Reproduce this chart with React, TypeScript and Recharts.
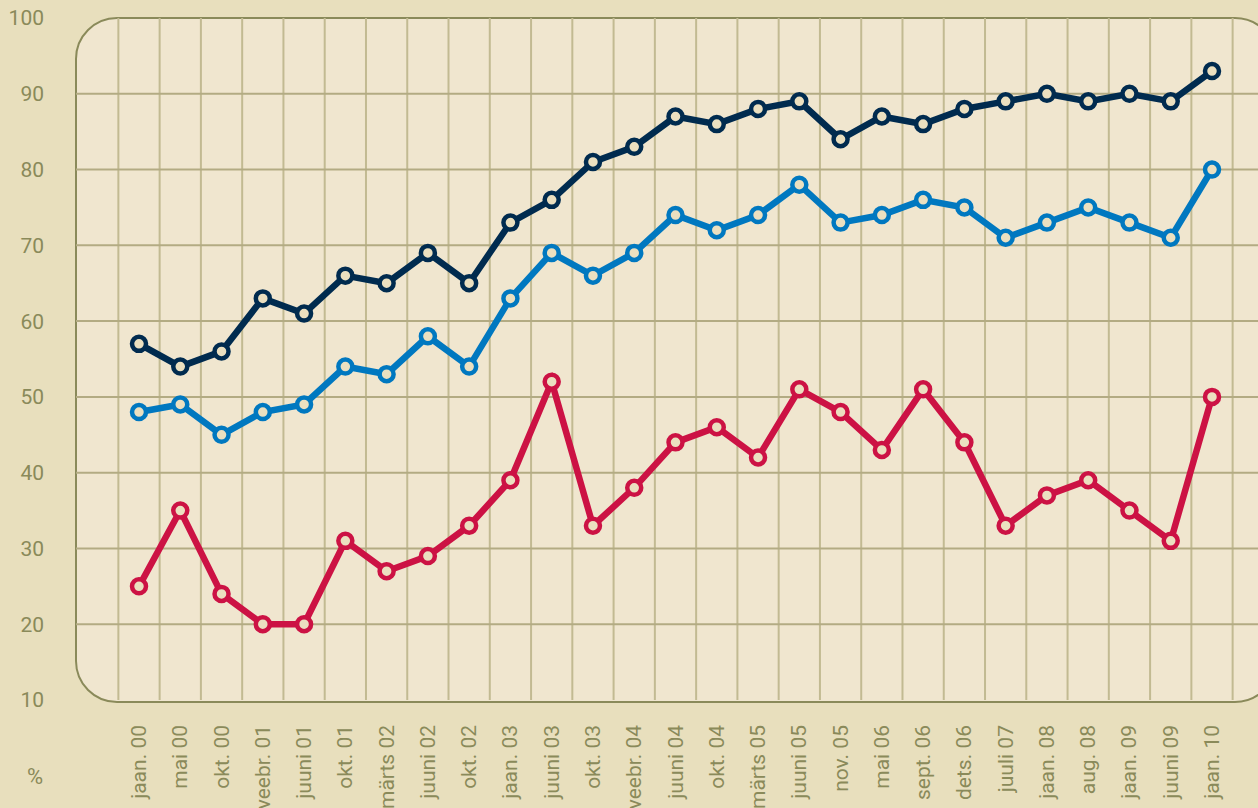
import { LineChart, Line, XAxis, YAxis, CartesianGrid } from 'recharts'

const months = [
  'jaan. 00', 'mai 00', 'okt. 00', 'veebr. 01', 'juuni 01', 'okt. 01', 'märts 02',
  'juuni 02', 'okt. 02', 'jaan. 03', 'juuni 03', 'okt. 03', 'veebr. 04', 'juuni 04',
  'okt. 04', 'märts 05', 'juuni 05', 'nov. 05', 'mai 06', 'sept. 06', 'dets. 06',
  'juuli 07', 'jaan. 08', 'aug. 08', 'jaan. 09', 'juuni 09', 'jaan. 10',
]
const navySeries = [57, 54, 56, 63, 61, 66, 65, 69, 65, 73, 76, 81, 83, 87, 86, 88, 89, 84, 87, 86, 88, 89, 90, 89, 90, 89, 93]
const blueSeries = [48, 49, 45, 48, 49, 54, 53, 58, 54, 63, 69, 66, 69, 74, 72, 74, 78, 73, 74, 76, 75, 71, 73, 75, 73, 71, 80]
const redSeries = [25, 35, 24, 20, 20, 31, 27, 29, 33, 39, 52, 33, 38, 44, 46, 42, 51, 48, 43, 51, 44, 33, 37, 39, 35, 31, 50]
const yTicks = [10, 20, 30, 40, 50, 60, 70, 80, 90, 100]

const W = 1258
const H = 808
const MARGIN = { top: 18, right: -16, bottom: 0, left: 0 }
const Y_AXIS_W = 76
const X_AXIS_H = 108
const PAD_L = 63
const PAD_R = 62
const Y_MIN = 10
const Y_MAX = 100

const PAGE_BG = '#e8dfbd'
const PLOT_BG = '#f0e6cf'
const OLIVE = '#8a8a5a'
const FONT = 'Roboto, "Noto Sans", sans-serif'

const data = months.map((m, i) => ({
  month: m,
  navy: navySeries[i],
  blue: blueSeries[i],
  red: redSeries[i],
}))

function MonthTick({ x, y, payload }: any) {
  return (
    <text
      x={x}
      y={y}
      transform={`rotate(-90, ${x}, ${y})`}
      textAnchor="end"
      dominantBaseline="central"
      fill={OLIVE}
      fontSize={21}
      fontFamily={FONT}
    >
      {payload.value}
    </text>
  )
}

// grid lines sit between the categories
const verticalLines = ({ offset }: any) => {
  const first = offset.left + PAD_L
  const last = offset.left + offset.width - PAD_R
  const step = (last - first) / (months.length - 1)
  return Array.from({ length: months.length + 1 }, (_, i) => first - step / 2 + i * step)
}

const horizontalLines = ({ offset }: any) =>
  yTicks
    .filter((v) => v > Y_MIN && v < Y_MAX)
    .map((v) => offset.top + (offset.height * (Y_MAX - v)) / (Y_MAX - Y_MIN))

function dot(color: string) {
  return { r: 7, stroke: color, strokeWidth: 4.5, fill: '#ebe0c0' }
}

export default function App() {
  const plotW = W - MARGIN.left - MARGIN.right - Y_AXIS_W
  const plotH = H - MARGIN.top - MARGIN.bottom - X_AXIS_H

  return (
    <div
      style={{
        position: 'absolute',
        top: 0,
        left: 0,
        width: W,
        height: H,
        overflow: 'hidden',
        background: PAGE_BG,
      }}
    >
      <div
        style={{
          position: 'absolute',
          left: MARGIN.left + Y_AXIS_W - 1,
          top: MARGIN.top - 1,
          width: plotW,
          height: plotH,
          background: PLOT_BG,
          border: `2px solid ${OLIVE}`,
          borderRadius: 42,
        }}
      />
      <div style={{ position: 'absolute', top: 0, left: 0 }}>
        <LineChart width={W} height={H} data={data} margin={MARGIN}>
          <CartesianGrid
            horizontal={false}
            verticalCoordinatesGenerator={verticalLines}
            stroke="#c2ba92"
            strokeWidth={2}
          />
          <CartesianGrid
            vertical={false}
            horizontalCoordinatesGenerator={horizontalLines}
            stroke="#b3ab83"
            strokeWidth={2}
          />
          <XAxis
            dataKey="month"
            interval={0}
            height={X_AXIS_H}
            padding={{ left: PAD_L, right: PAD_R }}
            axisLine={false}
            tickLine={false}
            tickSize={0}
            tickMargin={25}
            tick={<MonthTick />}
          />
          <YAxis
            domain={[Y_MIN, Y_MAX]}
            ticks={yTicks}
            width={Y_AXIS_W}
            axisLine={false}
            tickLine={false}
            tickSize={0}
            tickMargin={32}
            tick={{ fill: OLIVE, fontSize: 21, fontFamily: FONT }}
            label={{
              value: '%',
              position: 'insideBottom',
              offset: -84,
              dx: -3,
              fill: OLIVE,
              fontSize: 22,
              fontFamily: FONT,
            }}
          />
          <Line type="linear" dataKey="navy" stroke="#002b4f" strokeWidth={6.5} dot={dot('#002b4f')} activeDot={false} isAnimationActive={false} />
          <Line type="linear" dataKey="blue" stroke="#0078c0" strokeWidth={6.5} dot={dot('#0078c0')} activeDot={false} isAnimationActive={false} />
          <Line type="linear" dataKey="red" stroke="#cc1244" strokeWidth={6.5} dot={dot('#cc1244')} activeDot={false} isAnimationActive={false} />
        </LineChart>
      </div>
    </div>
  )
}
